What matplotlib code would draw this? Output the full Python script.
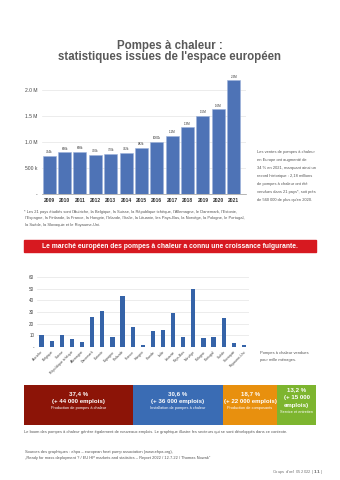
import matplotlib
matplotlib.use("Agg")
import matplotlib.pyplot as plt
from matplotlib.patches import Rectangle

plt.rcParams['font.family'] = ['Liberation Sans', 'DejaVu Sans']

# ventes de pompes a chaleur en Europe (milliers)
years = ['2009', '2010', '2011', '2012', '2013', '2014', '2015',
         '2016', '2017', '2018', '2019', '2020', '2021']
sales_k = [734, 800, 808, 750, 770, 792, 882, 1000, 1120, 1280, 1500, 1620, 2180]
sales_ticks = [0, 500000, 1000000, 1500000, 2000000]
sales_ticklabels = ['-', '500 k', '1.0 M', '1.5 M', '2.0 M']

# pompes a chaleur vendues pour mille menages
countries = ['Autriche', 'Belgique', 'Suisse', 'République tchèque', 'Allemagne',
             'Danemark', 'Estonie', 'Espagne', 'Finlande', 'France', 'Hongrie',
             'Irlande', 'Italie', 'Lituanie', 'Pays-Bas', 'Norvège', 'Pologne',
             'Portugal', 'Suède', 'Slovaquie', 'Royaume-Uni']
per_1000 = [10, 5.5, 10.5, 6.5, 4.5, 25.5, 30.5, 8.2, 44, 17.5, 1.8,
            13.5, 15, 29, 8.7, 50, 7.5, 8.7, 24.5, 3.5, 1.6]

# emplois par secteur
job_pct = [37.4, 30.6, 18.7, 13.2]
job_lines = [['37,4 %', '(+ 44 000 emplois)'],
             ['30,6 %', '(+ 36 000 emplois)'],
             ['18,7 %', '(+ 22 000 emplois)'],
             ['13,2 %', '(+ 15 000', 'emplois)']]
job_sector = ['Production de pompes à chaleur', 'Installation de pompes à chaleur',
              'Production de composants', 'Service et entretien']
job_colors = ['#8c1407', '#3a6cb4', '#e8900e', '#7db52f']

W, H = 340, 480
fig = plt.figure(figsize=(W / 100, H / 100), dpi=100)
fig.patch.set_facecolor('white')


def box(x0, y0, x1, y1):
    # pixel box (top-left origin) -> figure fraction
    return [x0 / W, 1 - y1 / H, (x1 - x0) / W, (y1 - y0) / H]


def txt(x, y, s, **kw):
    fig.text(x / W, 1 - y / H, s, **kw)


txt(170, 46, 'Pompes à chaleur :', ha='center', va='center',
    fontsize=8.3, fontweight='bold', color='#595959')
txt(170, 57, "statistiques issues de l'espace européen", ha='center', va='center',
    fontsize=8.3, fontweight='bold', color='#595959')

# --- ventes annuelles ---
ax1 = fig.add_axes(box(41.5, 74, 246, 194))
xs = range(len(years))
vals = [v * 1000 for v in sales_k]
ax1.bar(xs, vals, width=0.84, color='#4e73b6', edgecolor='#9db2da', linewidth=0.4, zorder=3)
for x, v in zip(xs, sales_k):
    lab = f'{v}k' if v < 1050 else f'{v / 1000:.1f}M'
    ax1.text(x, v * 1000 + 30000, lab, ha='center', va='bottom', fontsize=2.2, color='#333333')
ax1.set_xlim(-0.5, 12.8)
ax1.set_ylim(0, 2300000)
ax1.set_yticks(sales_ticks)
ax1.set_yticklabels(sales_ticklabels, fontsize=3.6, color='#444444')
ax1.set_xticks(list(xs))
ax1.set_xticklabels(years, fontsize=3.6, color='#333333', fontweight='bold')
ax1.tick_params(length=0, pad=3)
ax1.grid(axis='y', color='#e4e4e4', linewidth=0.5, zorder=0)
for s in ['top', 'right', 'left']:
    ax1.spines[s].set_visible(False)
ax1.spines['bottom'].set_color('#999999')
ax1.spines['bottom'].set_linewidth(0.5)

note = ['Les ventes de pompes à chaleur', 'en Europe ont augmenté de',
        '34 % en 2021, marquant ainsi un', 'record historique : 2,18 millions',
        'de pompes à chaleur ont été', 'vendues dans 21 pays*, soit près',
        "de 560 000 de plus qu'en 2020."]
for i, line in enumerate(note):
    txt(257, 152 + i * 8, line, ha='left', va='center', fontsize=2.9, color='#555555')

foot = ["* Les 21 pays étudiés sont l'Autriche, la Belgique, la Suisse, la République tchèque, l'Allemagne, le Danemark, l'Estonie,",
        " l'Espagne, la Finlande, la France, la Hongrie, l'Irlande, l'Italie, la Lituanie, les Pays-Bas, la Norvège, la Pologne, le Portugal,",
        " la Suède, la Slovaquie et le Royaume-Uni."]
for i, line in enumerate(foot):
    txt(24, 212 + i * 6.5, line, ha='left', va='center', fontsize=2.9, color='#555555')

# bandeau rouge
fig.patches.append(Rectangle((24 / W, 1 - 252.5 / H), 292 / W, 12.5 / H,
                             transform=fig.transFigure, color='#d71920', zorder=1))
txt(170, 246.3, 'Le marché européen des pompes à chaleur a connu une croissance fulgurante.',
    ha='center', va='center', fontsize=4.9, fontweight='bold', color='white')

# --- pompes a chaleur pour mille menages ---
ax2 = fig.add_axes(box(37, 270, 249, 347))
xs2 = range(len(countries))
ax2.bar(xs2, per_1000, width=0.42, color='#3563a8', zorder=3)
ax2.set_xlim(-0.45, 20.5)
ax2.set_ylim(0, 66)
ax2.set_yticks([0, 10, 20, 30, 40, 50, 60])
ax2.set_yticklabels(['-', '10', '20', '30', '40', '50', '60'], fontsize=3.3, color='#444444')
ax2.set_xticks(list(xs2))
ax2.set_xticklabels(countries, fontsize=2.5, color='#444444', rotation=45,
                    ha='right', rotation_mode='anchor')
ax2.tick_params(length=0, pad=2)
ax2.grid(axis='y', color='#e4e4e4', linewidth=0.5, zorder=0)
for s in ['top', 'right', 'left', 'bottom']:
    ax2.spines[s].set_visible(False)

txt(260, 353, 'Pompes à chaleur vendues', ha='left', va='center', fontsize=2.9, color='#555555')
txt(260, 360, 'pour mille ménages.', ha='left', va='center', fontsize=2.9, color='#555555')

# --- emplois ---
ax3 = fig.add_axes(box(24, 385, 316, 425))
left = 0
for pct, lines, sector, col in zip(job_pct, job_lines, job_sector, job_colors):
    ax3.barh(0, pct, left=left, height=1, color=col, edgecolor='none')
    cx = left + pct / 2
    n = len(lines)
    y0 = 0.28 + (n - 2) * 0.1
    for j, line in enumerate(lines):
        ax3.text(cx, y0 - j * 0.19, line, ha='center', va='center',
                 fontsize=4.4, fontweight='bold', color='white')
    ax3.text(cx, y0 - n * 0.19 + 0.02, sector, ha='center', va='center',
             fontsize=2.8, color='white')
    left += pct
ax3.set_xlim(0, left)
ax3.set_ylim(-0.5, 0.5)
ax3.axis('off')

txt(24, 432, 'Le boom des pompes à chaleur génère également de nouveaux emplois. '
    'Le graphique illustre les secteurs qui se sont développés dans ce contexte.',
    ha='left', va='center', fontsize=2.9, color='#555555')

txt(25, 451.5, 'Sources des graphiques : ehpa – european heat pump association (www.ehpa.org),',
    ha='left', va='center', fontsize=2.9, color='#555555')
txt(25, 457.5, '„Ready for mass deployment ? / EU HP markets and statistics – Report 2022 / 12.7.22 / Thomas Nowak"',
    ha='left', va='center', fontsize=2.9, color='#555555')
txt(323, 471.5, "Coups d'œil 05 2022 | $\\bf{11}$ |", ha='right', va='center',
    fontsize=3.0, color='#777777')

fig.savefig('out.png', dpi=100, facecolor='white')
